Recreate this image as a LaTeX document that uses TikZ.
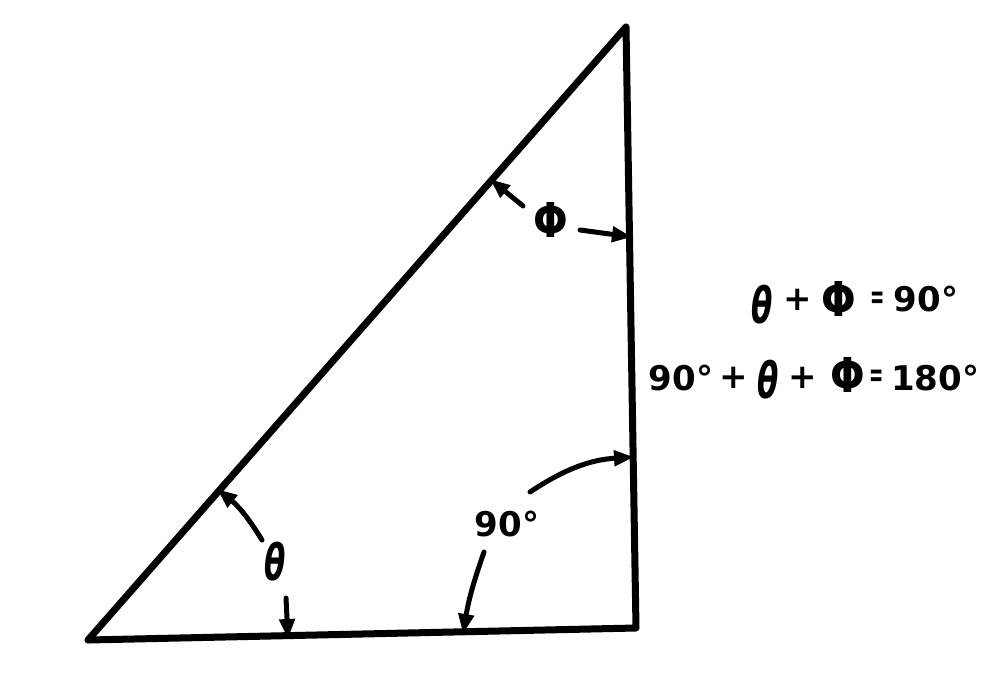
\documentclass[tikz,border=0pt]{standalone}
\usepackage{fontspec}
\setmainfont{DejaVu Sans}
\usetikzlibrary{arrows.meta}
\tikzset{
  side/.style={line width=7pt, line join=round, line cap=round},
  arr/.style={line width=5pt, line cap=round, -{Triangle[length=20pt,width=15pt]}},
  txt/.style={font=\fontsize{34}{36}\selectfont\bfseries, inner sep=0pt}
}
\newcommand{\thglyph}{\scalebox{0.62}[1]{\fontsize{50}{52}\selectfont\bfseries\itshape θ}}
\newcommand{\phglyph}{\scalebox{0.85}[1]{\fontsize{48}{52}\selectfont\bfseries Φ}}
\newcommand{\eqsign}{\scalebox{0.5}[1]{=}}
\begin{document}
\begin{tikzpicture}[x=1pt,y=-1pt]
\useasboundingbox (0,0) rectangle (1000,696);
\coordinate (A) at (88,640);
\coordinate (B) at (626,27);
\coordinate (C) at (636,628);
\draw[side] (A) -- (B) -- (C) -- cycle;
% labels
\node[txt] (phi) at (551,220) {\phglyph};
\node[txt] (theta) at (275,562) {\thglyph};
\node[txt] (ninety) at (507,524) {90°};
% arrow endpoints
\coordinate (p1s) at (523,206); \coordinate (p1e) at (490,179);
\coordinate (p2s) at (580,230); \coordinate (p2e) at (632,237);
\coordinate (t1s) at (262,540); \coordinate (t1e) at (217,489);
\coordinate (t2s) at (286,598); \coordinate (t2e) at (288,639);
\coordinate (n1s) at (530,492); \coordinate (n1e) at (634,457);
\coordinate (n2s) at (484,552); \coordinate (n2e) at (463,634);
\draw[arr] (p1s) -- (p1e);
\draw[arr] (p2s) -- (p2e);
\draw[arr] (t1s) to[bend right=10] (t1e);
\draw[arr] (t2s) -- (t2e);
\draw[arr] (n1s) to[bend left=15] (n1e);
\draw[arr] (n2s) to[bend right=5] (n2e);
% equation 1
\node[txt] (e1th) at (762,305) {\thglyph};
\node[txt] (e1pl) at (798,300) {+};
\node[txt] (e1ph) at (839,299) {\phglyph};
\node[txt] (e1eq) at (878,300) {\eqsign};
\node[txt] (e1n) at (926,299) {90°};
% equation 2
\node[txt] (e2n) at (681,378) {90°};
\node[txt] (e2pl1) at (734,378) {+};
\node[txt] (e2th) at (768,380) {\thglyph};
\node[txt] (e2pl2) at (803,378) {+};
\node[txt] (e2ph) at (848,375) {\phglyph};
\node[txt] (e2eq) at (877,378) {\eqsign};
\node[txt] (e2m) at (935,378) {180°};
\end{tikzpicture}
\end{document}
